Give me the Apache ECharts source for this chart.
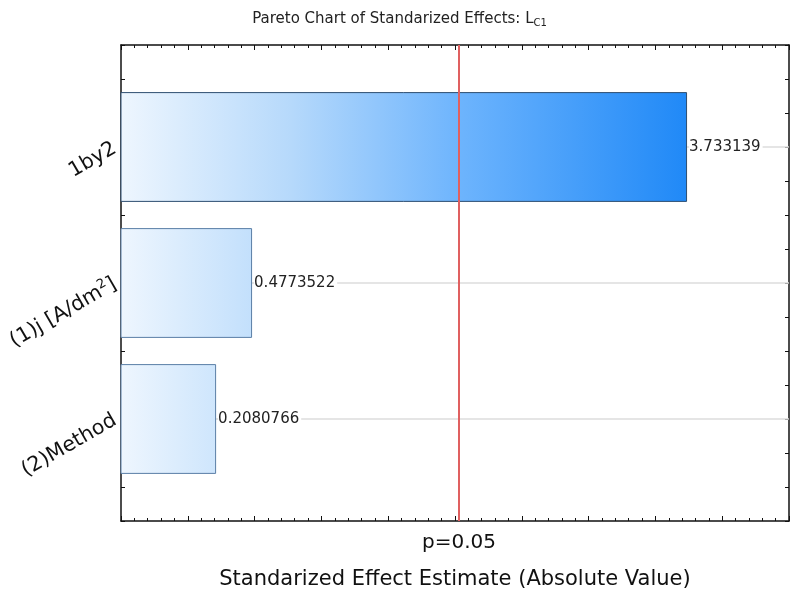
<!DOCTYPE html>
<html>
<head>
<meta charset="utf-8">
<script src="https://cdn.jsdelivr.net/npm/echarts@6/dist/echarts.min.js"></script>
<style>
html, body { margin: 0; padding: 0; background: #fff; }
#main { width: 799px; height: 603px; }
</style>
</head>
<body>
<div id="main"></div>
<script>
// effects, top to bottom
var categories = ['1by2', '(1)j [A/dm{sup|2}]', '(2)Method'];
var effects = [3.733139, 0.4773522, 0.2080766];
var effectLabels = ['3.733139', '0.4773522', '0.2080766'];
var critValue = 2.034;   // p=0.05 line
var critLabel = 'p=0.05';

var xMin = -0.5, xMax = 4.5;
var yMin = -0.75, yMax = 2.75;
var FONT = 'DejaVu Sans';

var chart = echarts.init(document.getElementById('main'));

var tickX = {
	type: 'value', min: xMin, max: xMax, interval: 0.5,
	axisLine: { show: true, onZero: false, lineStyle: { color: '#111', width: 1.5 } },
	axisTick: { show: true, inside: true, length: 5, lineStyle: { color: '#111' } },
	minorTick: { show: true, splitNumber: 5, length: 3, lineStyle: { color: '#111' } },
	axisLabel: { show: false },
	splitLine: { show: false }
};
var tickY = {
	type: 'value', min: yMin, max: yMax, interval: 0.25, inverse: true,
	axisLine: { show: true, onZero: false, lineStyle: { color: '#111', width: 1.5 } },
	axisTick: { show: true, inside: true, length: 4, lineStyle: { color: '#111' } },
	axisLabel: { show: false },
	splitLine: { show: false }
};

var option = {
	backgroundColor: '#fff',
	animation: false,
	title: {
		text: 'Pareto Chart of Standarized Effects: L{sub|C1}',
		left: 'center',
		top: 6,
		textStyle: {
			fontFamily: FONT, fontSize: 15, fontWeight: 'normal', color: '#222',
			rich: { sub: { fontSize: 10, padding: [7, 0, 0, 0], verticalAlign: 'bottom', color: '#222', fontFamily: FONT } }
		}
	},
	grid: { left: 121, right: 10, top: 45, bottom: 82 },
	xAxis: [
		echarts.util.merge({
			position: 'bottom',
			name: 'Standarized Effect Estimate (Absolute Value)',
			nameLocation: 'middle',
			nameGap: 48,
			nameTextStyle: { fontFamily: FONT, fontSize: 21, color: '#111' }
		}, tickX),
		echarts.util.merge({ position: 'top' }, echarts.util.clone(tickX))
	],
	yAxis: [
		echarts.util.merge({
			position: 'left',
			axisLabel: {
				show: true,
				rotate: 30,
				margin: 6,
				fontFamily: FONT,
				fontSize: 20.5,
				color: '#111',
				formatter: function (v) {
					var i = Math.round(v);
					if (Math.abs(v - i) > 1e-6 || i < 0 || i >= categories.length) return '';
					return categories[i];
				},
				rich: { sup: { fontSize: 13, padding: [0, 0, 11, 0], fontFamily: FONT, color: '#111' } }
			}
		}, echarts.util.clone(tickY), false),
		echarts.util.merge({ position: 'right' }, echarts.util.clone(tickY))
	],
	series: [
		{
			// grid lines at each effect
			type: 'line',
			data: [],
			z: 1,
			markLine: {
				silent: true,
				z: 1,
				symbol: 'none',
				label: { show: false },
				lineStyle: { color: '#dcdcdc', width: 1.5, type: 'solid' },
				data: categories.map(function (c, i) { return { yAxis: i }; })
			}
		},
		{
			type: 'custom',
			z: 3,
			data: effects.map(function (v, i) { return [v, i]; }),
			renderItem: function (params, api) {
				var v = api.value(0), i = api.value(1);
				var p0 = api.coord([xMin, i]);
				var p1 = api.coord([v, i]);
				var h = api.size([0, 0.8])[1];
				var g0 = api.coord([xMin, 0])[0];
				var g1 = api.coord([effects[0], 0])[0];
				return {
					type: 'rect',
					shape: { x: p0[0], y: p0[1] - h / 2, width: p1[0] - p0[0], height: h },
					style: {
						fill: new echarts.graphic.LinearGradient(g0, 0, g1, 0, [
							{ offset: 0, color: '#eef6fe' },
							{ offset: 0.3, color: '#b6d9fb' },
							{ offset: 0.6, color: '#6db4fd' },
							{ offset: 1, color: '#2089f7' }
						], true),
						stroke: params.dataIndex === 0 ? '#2e4e70' : '#5a7ea6',
						lineWidth: 1
					},
					textContent: {
						style: {
							text: effectLabels[params.dataIndex],
							fill: '#222',
							font: '15px "DejaVu Sans"',
							backgroundColor: '#fff',
							padding: [0, 2, 0, 0]
						}
					},
					textConfig: { position: 'right', distance: 2 }
				};
			},
			markLine: {
				silent: true,
				z: 6,
				symbol: 'none',
				lineStyle: { color: '#e06060', width: 2, type: 'solid' },
				label: {
					show: true,
					position: 'end',
					distance: 12,
					formatter: critLabel,
					fontFamily: FONT,
					fontSize: 20,
					color: '#111'
				},
				data: [{ xAxis: critValue }]
			}
		}
	]
};

chart.setOption(option);
</script>
</body>
</html>
